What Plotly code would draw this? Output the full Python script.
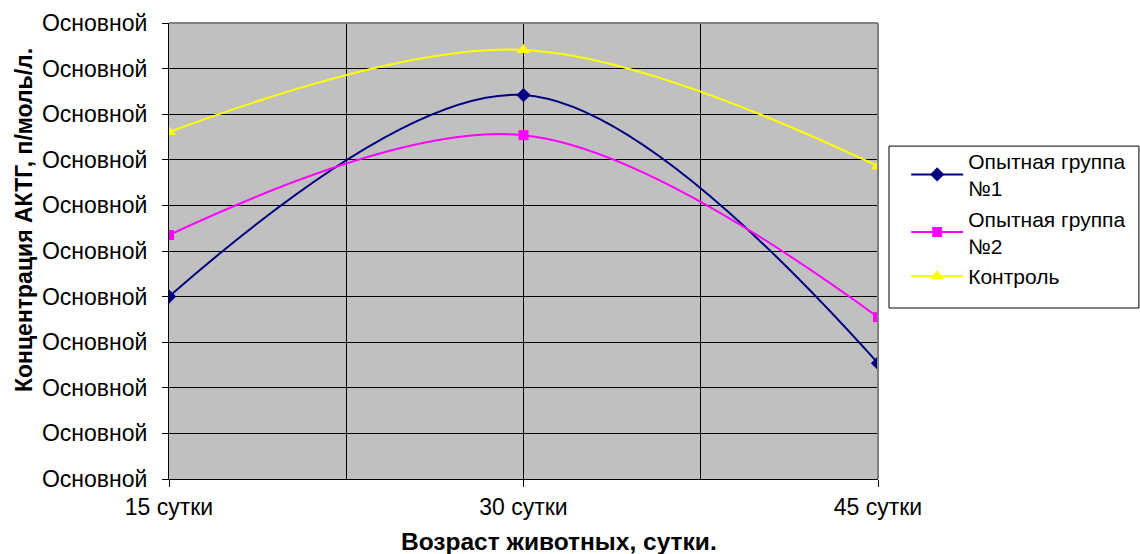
import plotly.graph_objects as go

days = [15, 30, 45]
day_labels = ["15 сутки", "30 сутки", "45 сутки"]
group1 = [4.0, 8.42, 2.54]
group2 = [5.35, 7.54, 3.55]
control = [7.61, 9.41, 6.86]
y_ticks = list(range(0, 11))
y_tick_labels = ["Основной"] * 11
x_title = "Возраст животных, сутки."
y_title = "Концентрация АКТГ, п/моль/л."

FONT = "Arial, Liberation Sans, sans-serif"

fig = go.Figure()
fig.add_trace(go.Scatter(x=days, y=group1, name="Опытная группа<br>№1", mode="lines+markers",
                         line=dict(color="#000080", width=2, shape="spline"),
                         marker=dict(symbol="diamond", size=11, color="#000080")))
fig.add_trace(go.Scatter(x=days, y=group2, name="Опытная группа<br>№2", mode="lines+markers",
                         line=dict(color="#FF00FF", width=2, shape="spline"),
                         marker=dict(symbol="square", size=10, color="#FF00FF")))
fig.add_trace(go.Scatter(x=days, y=control, name="Контроль", mode="lines+markers",
                         line=dict(color="#FFFF00", width=2, shape="spline"),
                         marker=dict(symbol="triangle-up", size=12, color="#FFFF00")))

fig.update_layout(
    width=1140, height=554,
    margin=dict(l=169, r=262, t=23, b=75, autoexpand=False),
    paper_bgcolor="white", plot_bgcolor="#C0C0C0",
    font=dict(family=FONT, size=23, color="black"),
    legend=dict(x=1.02, y=0.742, xanchor="left", yanchor="top",
                bgcolor="rgba(0,0,0,0)", borderwidth=0,
                font=dict(size=21), itemwidth=52, indentation=14, tracegroupgap=0),
    xaxis=dict(range=[15, 45], tickvals=days, ticktext=day_labels, automargin=False,
               showgrid=True, gridcolor="black", gridwidth=1,
               minor=dict(tickvals=[22.5, 37.5], showgrid=True, gridcolor="black", gridwidth=1, ticks=""),
               ticks="outside", ticklen=7, tickcolor="black",
               showline=True, linecolor="black", linewidth=1, zeroline=False),
    yaxis=dict(range=[0, 10], tickvals=y_ticks, ticktext=y_tick_labels, automargin=False,
               showgrid=True, gridcolor="black", gridwidth=1,
               ticks="outside", ticklen=6, tickcolor="black", ticklabelstandoff=10,
               showline=True, linecolor="black", linewidth=1, zeroline=False),
    showlegend=True,
)
# axis titles
fig.add_annotation(text="<b>" + x_title + "</b>", xref="paper", yref="paper",
                   x=0.550, y=-0.136, xanchor="center", yanchor="middle",
                   showarrow=False, font=dict(size=24.5))
fig.add_annotation(text="<b>" + y_title + "</b>", xref="paper", yref="paper",
                   x=-0.2045, y=0.568, xanchor="center", yanchor="middle", textangle=-90,
                   showarrow=False, font=dict(size=23))
# gray top/right border of plot area
fig.add_shape(type="line", xref="paper", yref="paper", x0=0, x1=1, y0=1, y1=1,
              line=dict(color="#808080", width=2))
fig.add_shape(type="line", xref="paper", yref="paper", x0=1, x1=1, y0=0, y1=1,
              line=dict(color="#808080", width=2))
# legend frame
fig.add_shape(type="rect", xref="paper", yref="paper", x0=1.0155, x1=1.368, y0=0.375, y1=0.730,
              line=dict(color="black", width=1), fillcolor="white", layer="below")

fig.write_html("out.html", config={"displayModeBar": False},
               post_script="document.body.style.margin='0';")
